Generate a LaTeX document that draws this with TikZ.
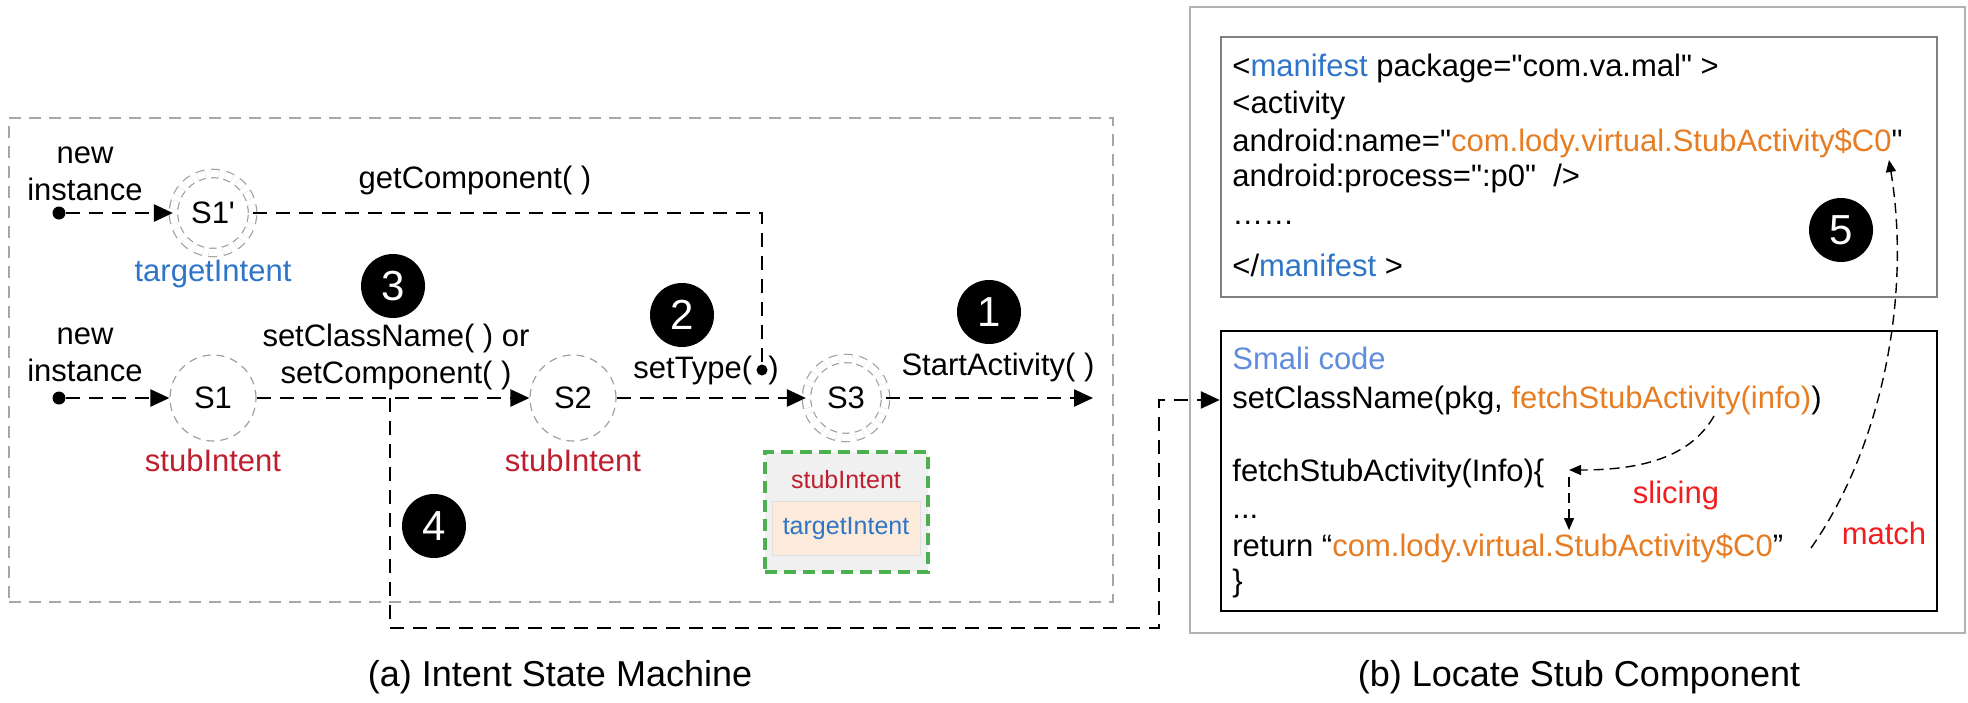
\documentclass[tikz,border=0pt]{standalone}
\usepackage{fontspec}
\setmainfont{Liberation Sans}[Ligatures=TeXOff]
\usetikzlibrary{arrows.meta,positioning}
\definecolor{stubred}{RGB}{190,30,45}
\definecolor{tgtblue}{RGB}{46,117,200}
\definecolor{codeorange}{RGB}{230,125,35}
\definecolor{smaliblue}{RGB}{95,140,220}
\definecolor{alertred}{RGB}{240,30,30}
\definecolor{boxgreen}{RGB}{76,175,80}
\definecolor{peach}{RGB}{252,234,218}

\begin{document}
\begin{tikzpicture}[x=0.5pt,y=-0.5pt,
  every node/.style={font=\fontsize{15.5}{18.5}\selectfont},
  state/.style={circle,draw=gray!75,line width=0.6pt,dash pattern=on 4pt off 3pt,minimum size=43pt,inner sep=0pt},
  accept/.style={state,double=white,double distance=3.6pt,minimum size=39.5pt},
  initdot/.style={circle,fill=black,minimum size=6.5pt,inner sep=0pt},
  badge/.style={circle,fill=black,text=white,minimum size=32pt,inner sep=0pt,font=\fontsize{21}{24}\selectfont},
  flow/.style={line width=1.25pt,dash pattern=on 7pt off 4.5pt,-{Triangle[length=9.5pt,width=8.5pt]}},
  slice/.style={line width=0.7pt,dash pattern=on 5pt off 3pt,-{Triangle[length=6pt,width=5pt]}},
  code/.style={anchor=base west,inner sep=0pt},
  caption/.style={font=\fontsize{18}{22}\selectfont}]
\useasboundingbox (0,0) rectangle (1968,702);

% frames
\node[draw=gray!70,line width=0.75pt,dash pattern=on 6pt off 4pt,minimum width=552pt,minimum height=242pt] (ism) at (561,360) {};
\node[draw=gray!60,line width=1pt,minimum width=387.5pt,minimum height=313pt] (locbox) at (1577.5,320) {};
\node[draw=gray,line width=1pt,minimum width=358pt,minimum height=130pt] (mani) at (1579,167) {};
\node[draw,line width=1.25pt,minimum width=358pt,minimum height=140pt] (smali) at (1579,471) {};

% state machine
\node[initdot] (d1) at (59,213) {};
\node[align=center] (new1) at (85,174) {new\\instance};
\node[accept, label={[text=tgtblue]below:targetIntent}] (s1p) at (213,213) {S1'};
\node (getc) at (475,180) {getComponent( )};

\node[initdot] (d2) at (59,398) {};
\node[align=center] (new2) at (85,355) {new\\instance};
\node[state, label={[text=stubred]below:stubIntent}] (s1) at (213,398) {S1};
\node[state, label={[text=stubred]below:stubIntent}] (s2) at (573,398) {S2};
\node[accept] (s3) at (846,398) {S3};
\coordinate (jn) at (390,398);
\coordinate (jb) at (1159,628);
\coordinate (out) at (1093,398);

\node[align=center] (setcls) at (396,357) {setClassName( ) or\\setComponent( )};
\node (sett) at (706,370) {setType(\hspace{8pt})};
\node[initdot,minimum size=5.5pt] (tydot) at (762,370) {};
\node (start) at (998,367) {StartActivity( )};

\node[badge] (n1) at (989,312) {1};
\node[badge] (n2) at (682,315) {2};
\node[badge] (n3) at (393,286) {3};
\node[badge] (n4) at (434,526) {4};
\node[badge] (n5) at (1841,230) {5};

% intent held by S3
\node[draw=boxgreen,line width=2pt,dash pattern=on 6pt off 3.5pt,fill=gray!12,minimum width=81.5pt,minimum height=60pt] (ctx) at (846.5,512) {};
\node[text=stubred,font=\fontsize{12.5}{15}\selectfont] (ctxs) at (846,480) {stubIntent};
\node[draw=gray!25,fill=peach,minimum width=74pt,minimum height=27pt,text=tgtblue,font=\fontsize{12.5}{15}\selectfont] (ctxt) at (846,528) {targetIntent};

\draw[flow] (d1) -- (s1p);
\draw[flow,-] (s1p) -| (tydot);
\draw[flow] (d2) -- (s1);
\draw[flow] (s1) -- (s2);
\draw[flow] (s2) -- (s3);
\draw[flow] (s3) -- (out);

% manifest
\node[code] (m1) at (1232,76) {<\textcolor{tgtblue}{manifest} package="com.va.mal" >};
\node[code] (m2) at (1232,113) {<activity};
\node[code] (m3) at (1232,151) {android:name="\textcolor{codeorange}{com.lody.virtual.StubActivity\$C0}"};
\node[code] (m4) at (1232,186) {android:process=":p0"~~/>};
\node[code] (m5) at (1232,224) {……};
\node[code] (m6) at (1232,276) {</\textcolor{tgtblue}{manifest} >};

% smali
\node[code,text=smaliblue] (sm0) at (1232,369) {Smali code};
\node[code] (scn) at (1232,408) {setClassName(pkg, \textcolor{codeorange}{fetchStubActivity(info)})};
\node[code] (fsa) at (1232,481) {fetchStubActivity(Info)\{};
\node[code] (dots) at (1232,518) {...};
\node[code] (ret) at (1232,556) {return “\textcolor{codeorange}{com.lody.virtual.StubActivity\$C0}”};
\node[code] (cb) at (1232,591) {\}};

\draw[flow] (jn) |- (jb) |- (smali.west |- scn);

\coordinate (slA) at (1714,416);
\coordinate (slB) at (1569,470);
\coordinate (slC) at (1569,477);
\coordinate (slD) at (1569,530);
\coordinate (mtA) at (1811,548);
\coordinate (mtB) at (1889,160);
\draw[slice] (slA) .. controls (1690,458) and (1640,470) .. (slB);
\draw[slice] (slC) -- (slD);
\draw[slice] (mtA) .. controls (1880,450) and (1912,300) .. (mtB);
\node[text=alertred] (slc) at (1676,495) {slicing};
\node[text=alertred] (mtc) at (1884,533) {match};

\node[caption] (capa) at (560,677) {(a) Intent State Machine};
\node[caption] (capb) at (1579,677) {(b) Locate Stub Component};
\end{tikzpicture}
\end{document}
